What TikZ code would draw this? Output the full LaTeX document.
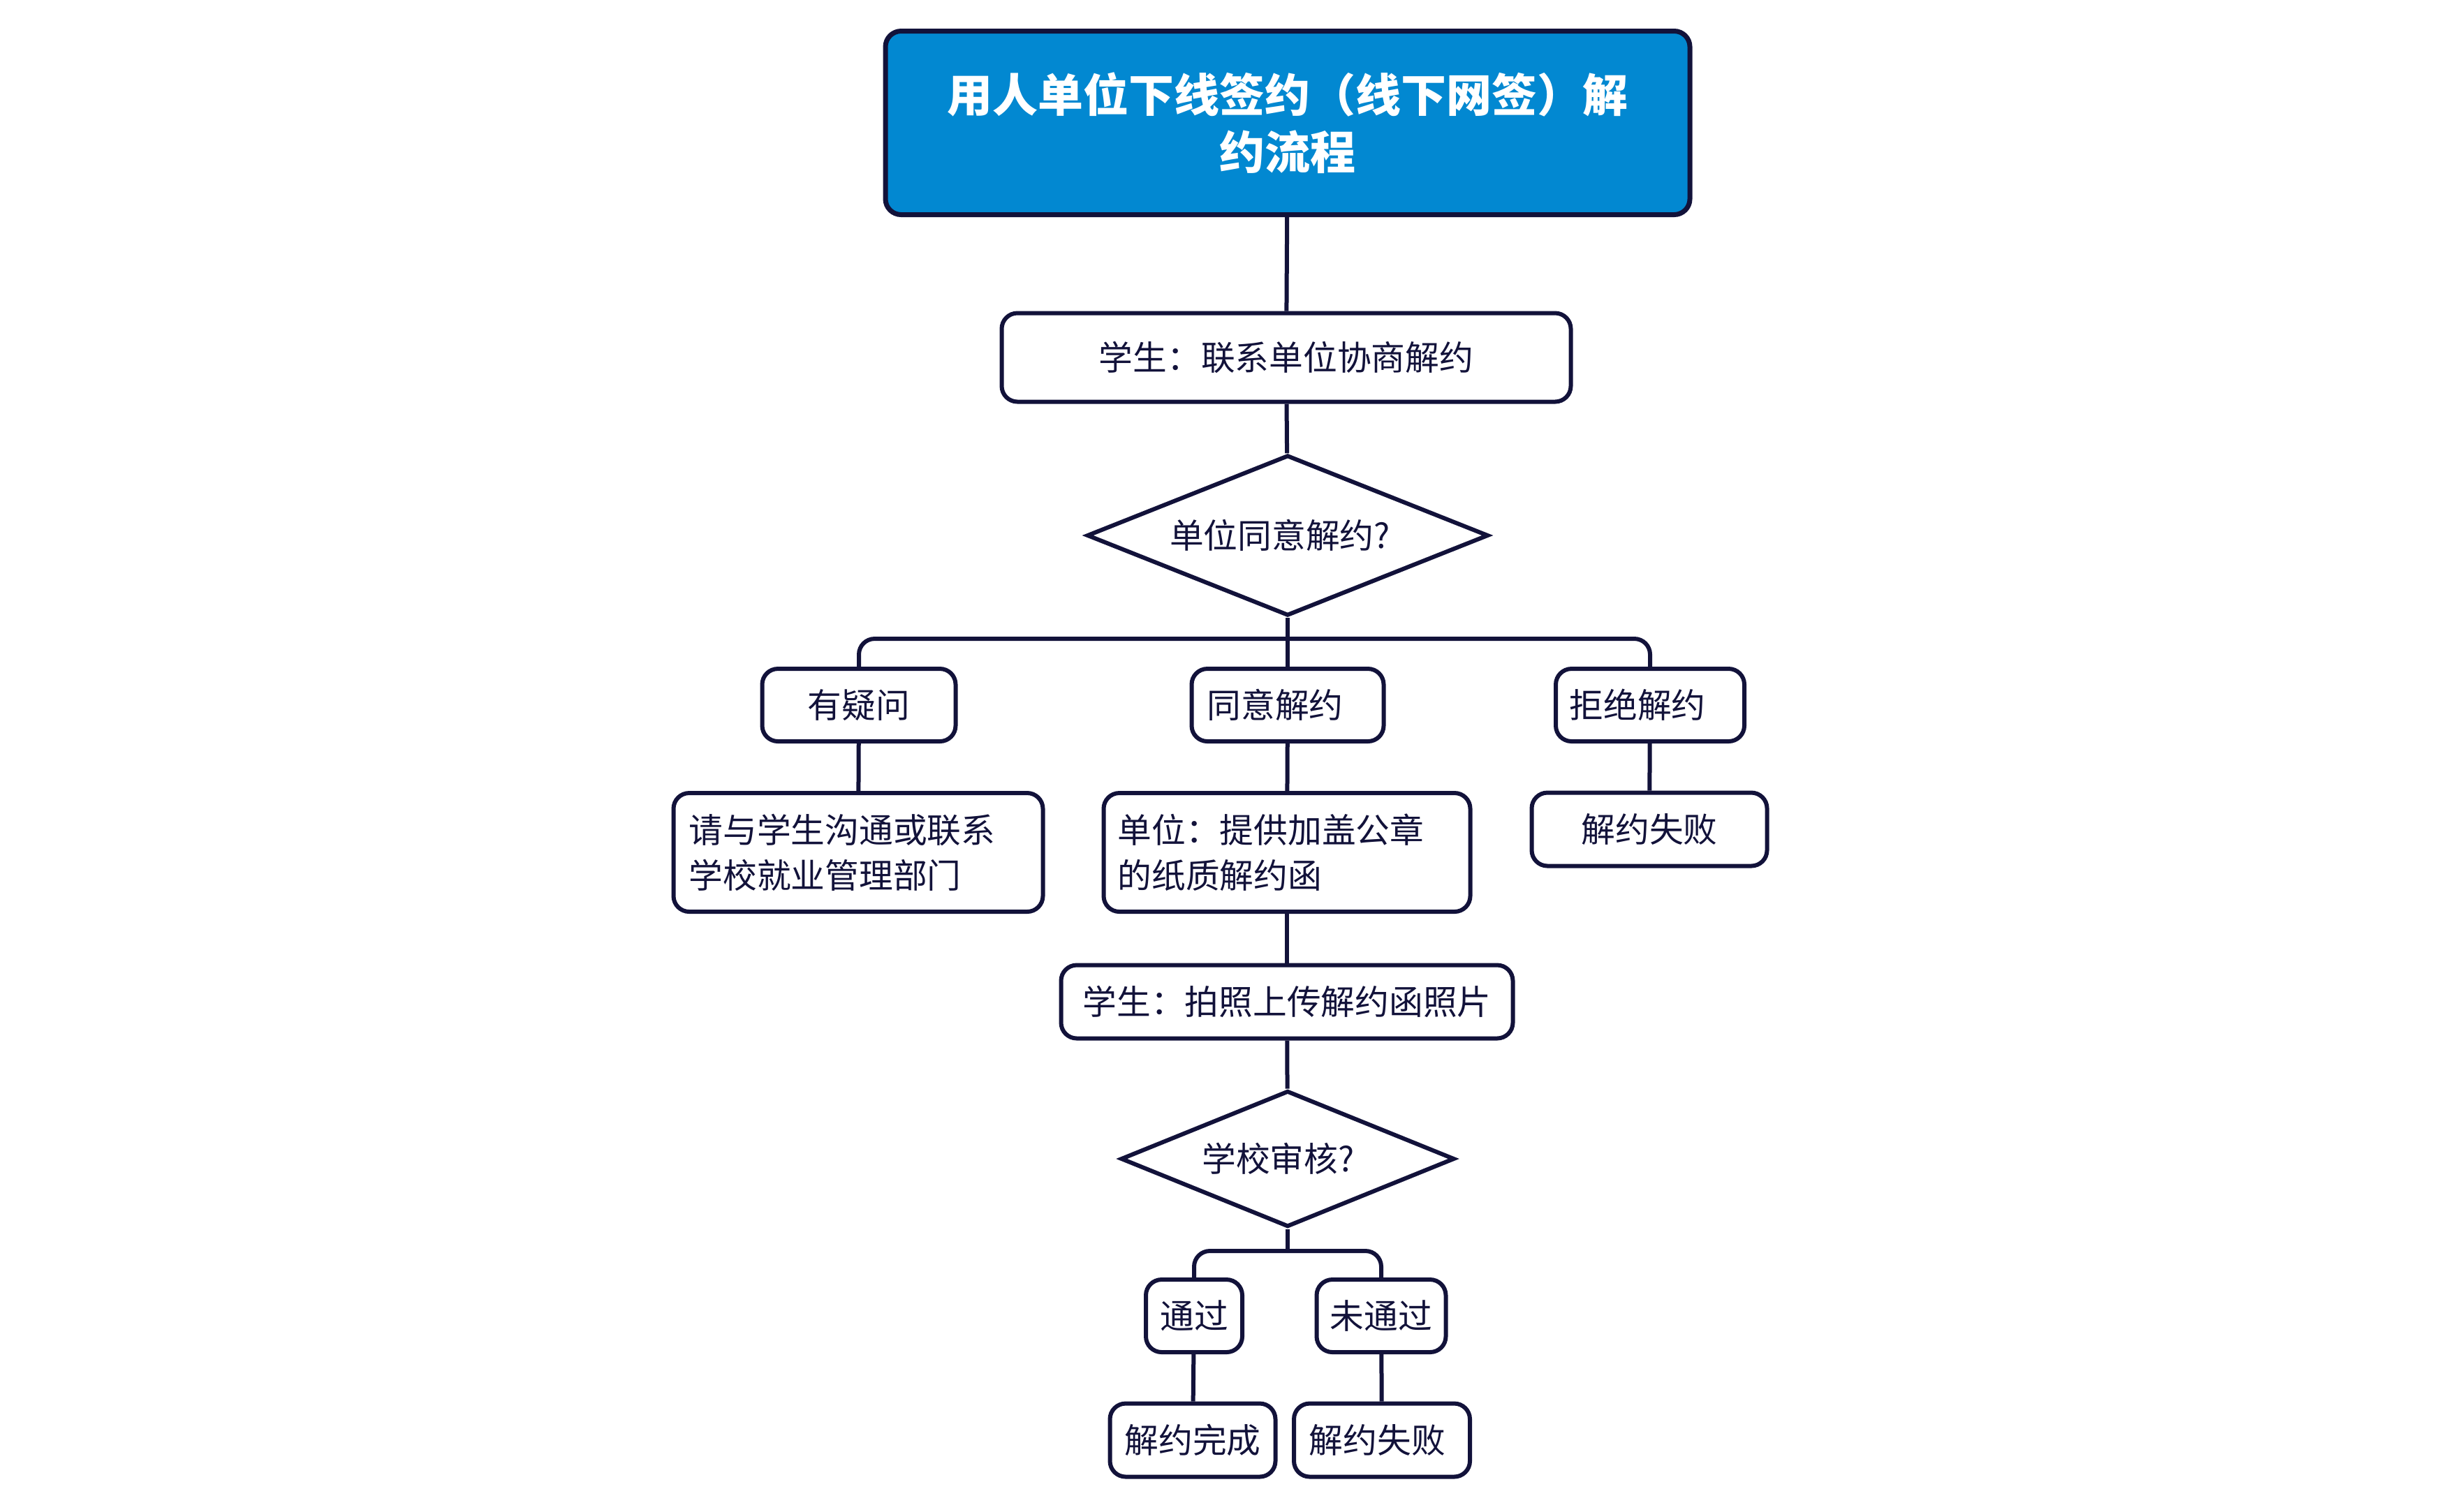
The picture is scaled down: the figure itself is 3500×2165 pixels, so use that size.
\documentclass[tikz,border=0pt]{standalone}
\usepackage{fontspec}
\setmainfont{Noto Sans CJK SC}
\usetikzlibrary{shapes.geometric}
\definecolor{navy}{RGB}{18,18,58}
\definecolor{titleblue}{RGB}{2,136,209}
\tikzset{
  base/.style={draw=navy,line width=1.2pt,text=navy,inner sep=0pt,font=\fontsize{9.75pt}{13pt}\selectfont},
  rbox/.style={base,rectangle,rounded corners=4.5pt},
  dbox/.style={base,diamond,aspect=2.5},
  titlebox/.style={rectangle,rounded corners=4.5pt,draw=navy,line width=1.4pt,fill=titleblue,text=white,inner sep=0pt,
    font=\fontsize{13pt}{16.5pt}\selectfont\bfseries,align=center},
  conn/.style={draw=navy,line width=1.2pt},
  bconn/.style={conn,rounded corners=4.5pt}
}
\begin{document}
\begin{tikzpicture}[x=0.2pt,y=-0.2pt]
\useasboundingbox (0,0) rectangle (3500,2165);
\node[titlebox,minimum width=230.4pt,minimum height=52.6pt] (title) at (1844,176) {用人单位下线签约（线下网签）解\\约流程};
\node[rbox,minimum width=163pt,minimum height=25.4pt] (s1) at (1842,512) {学生：联系单位协商解约};
\node[dbox,minimum width=115pt,minimum height=46pt] (d1) at (1844,767) {单位同意解约?\hspace*{4.4pt}};
\coordinate (b1) at (1844,915);
\node[rbox,minimum width=55.4pt,minimum height=20.8pt] (q) at (1230,1010) {有疑问};
\node[rbox,minimum width=55pt,minimum height=20.8pt] (agree) at (1844,1010) {同意解约\hspace*{7.2pt}};
\node[rbox,minimum width=54pt,minimum height=20.8pt] (refuse) at (2363,1010) {拒绝解约\hspace*{7.2pt}};
\node[rbox,minimum width=105.8pt,minimum height=34pt,text width=97pt,align=left] (qinfo) at (1229,1221) {请与学生沟通或联系\\学校就业管理部门};
\node[rbox,minimum width=105pt,minimum height=34pt,text width=97pt,align=left] (unit) at (1843,1221) {单位：提供加盖公章\\的纸质解约函};
\node[rbox,minimum width=67.4pt,minimum height=21pt] (fail1) at (2362,1188) {解约失败};
\node[rbox,minimum width=129.4pt,minimum height=21pt] (upload) at (1843,1435) {学生：拍照上传解约函照片};
\node[dbox,minimum width=95.6pt,minimum height=39pt] (d2) at (1844,1660) {学校审核?\hspace*{5.4pt}};
\coordinate (b2) at (1844,1792);
\node[rbox,minimum width=27.6pt,minimum height=20.8pt] (pass) at (1710,1885) {通过};
\node[rbox,minimum width=37pt,minimum height=20.8pt] (nopass) at (1978,1885) {未通过};
\node[rbox,minimum width=47.4pt,minimum height=21pt] (done) at (1708,2063) {解约完成};
\node[rbox,minimum width=50.4pt,minimum height=21pt] (fail2) at (1979,2063) {解约失败\hspace*{2.7pt}};

\draw[conn] (title) -- (s1);
\draw[conn] (s1) -- (d1);
\draw[conn] (d1.south) -- (b1);
\draw[bconn] (b1) -| (q.north);
\draw[bconn] (b1) -| (refuse.north);
\draw[conn] (b1) -- (agree.north);
\draw[conn] (q) -- (qinfo);
\draw[conn] (agree) -- (unit);
\draw[conn] (refuse) -- (fail1);
\draw[conn] (unit) -- (upload);
\draw[conn] (upload) -- (d2);
\draw[conn] (d2.south) -- (b2);
\draw[bconn] (b2) -| (pass.north);
\draw[bconn] (b2) -| (nopass.north);
\draw[conn] (pass) -- (done);
\draw[conn] (nopass) -- (fail2);
\end{tikzpicture}
\end{document}
